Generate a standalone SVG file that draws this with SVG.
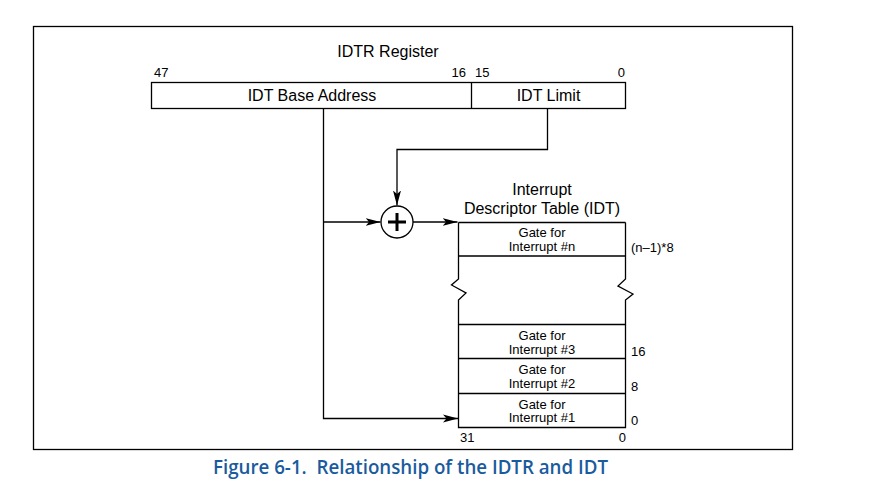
<svg xmlns="http://www.w3.org/2000/svg" width="873" height="488" viewBox="0 0 873 488">
<style>
  .ln{fill:none;stroke:#000;stroke-width:1.3}
  .t{font-family:"Liberation Sans",Arial,sans-serif;fill:#000}
  .big{font-size:16px}
  .num{font-size:13px}
  .gate{font-size:13px}
  .cap{font-family:"Open Sans","Noto Sans","Liberation Sans",sans-serif;font-weight:600;font-size:19px;fill:#1a5b9e}
</style>
<defs>
  <marker id="ah" markerWidth="16" markerHeight="10" refX="15" refY="4.5" orient="auto" markerUnits="userSpaceOnUse">
    <path d="M0,0.5 L15,4.5 L0,8.5 L3.5,4.5 Z" fill="#000"/>
  </marker>
</defs>
<rect x="0" y="0" width="873" height="488" fill="#fff"/>
<rect id="frame" class="ln" x="33.5" y="26.5" width="759" height="423"/>

<g id="idtr">
  <text class="t big" x="388" y="57" text-anchor="middle">IDTR Register</text>
  <text class="t num" x="154" y="77">47</text>
  <text class="t num" x="466" y="77" text-anchor="end">16</text>
  <text class="t num" x="475" y="77">15</text>
  <text class="t num" x="625" y="77" text-anchor="end">0</text>
  <rect class="ln" x="151.5" y="82.5" width="474" height="26"/>
  <line class="ln" x1="471.5" y1="82.5" x2="471.5" y2="108.5"/>
  <text class="t big" x="312" y="101" text-anchor="middle">IDT Base Address</text>
  <text class="t big" x="548.5" y="101" text-anchor="middle">IDT Limit</text>
</g>

<g id="adder">
  <circle class="ln" cx="397" cy="222" r="16"/>
  <path d="M388,222 H406 M397,213 V231" stroke="#000" stroke-width="3" fill="none"/>
</g>

<g id="idt">
  <text class="t big" x="542" y="195" text-anchor="middle">Interrupt</text>
  <text class="t big" x="542" y="213.5" text-anchor="middle">Descriptor Table (IDT)</text>
  <path class="ln" d="M458.5,222.5 H625.5 M458.5,256 H625.5 M458.5,222.5 V279 L451.5,285 L466,293 L458.5,300 V427.5 H625.5 V300 L633,294 L618,286 L625.5,279 V222.5 M458.5,324.5 H625.5 M458.5,358.5 H625.5 M458.5,393.5 H625.5"/>
  <g class="t gate" text-anchor="middle">
    <text x="542" y="237">Gate for</text>
    <text x="542" y="250.5">Interrupt #n</text>
    <text x="542" y="339.5">Gate for</text>
    <text x="542" y="353.5">Interrupt #3</text>
    <text x="542" y="374">Gate for</text>
    <text x="542" y="387.5">Interrupt #2</text>
    <text x="542" y="408.5">Gate for</text>
    <text x="542" y="422">Interrupt #1</text>
  </g>
  <text class="t num" x="631" y="252">(n–1)*8</text>
  <text class="t num" x="631" y="356">16</text>
  <text class="t num" x="631" y="391">8</text>
  <text class="t num" x="631" y="424.5">0</text>
  <text class="t num" x="460" y="442">31</text>
  <text class="t num" x="626" y="442" text-anchor="end">0</text>
</g>

<g id="connectors">
  <path class="ln" d="M547.5,108.5 V149.5 H397 V205.5" marker-end="url(#ah)"/>
  <path class="ln" d="M323.5,108.5 V418.5 H458" marker-end="url(#ah)"/>
  <path class="ln" d="M323.5,222 H380.5" marker-end="url(#ah)"/>
  <path class="ln" d="M413,222 H457.5" marker-end="url(#ah)"/>
</g>

<text class="cap" x="213" y="474" textLength="395" lengthAdjust="spacingAndGlyphs">Figure 6-1.&#160; Relationship of the IDTR and IDT</text>
</svg>
